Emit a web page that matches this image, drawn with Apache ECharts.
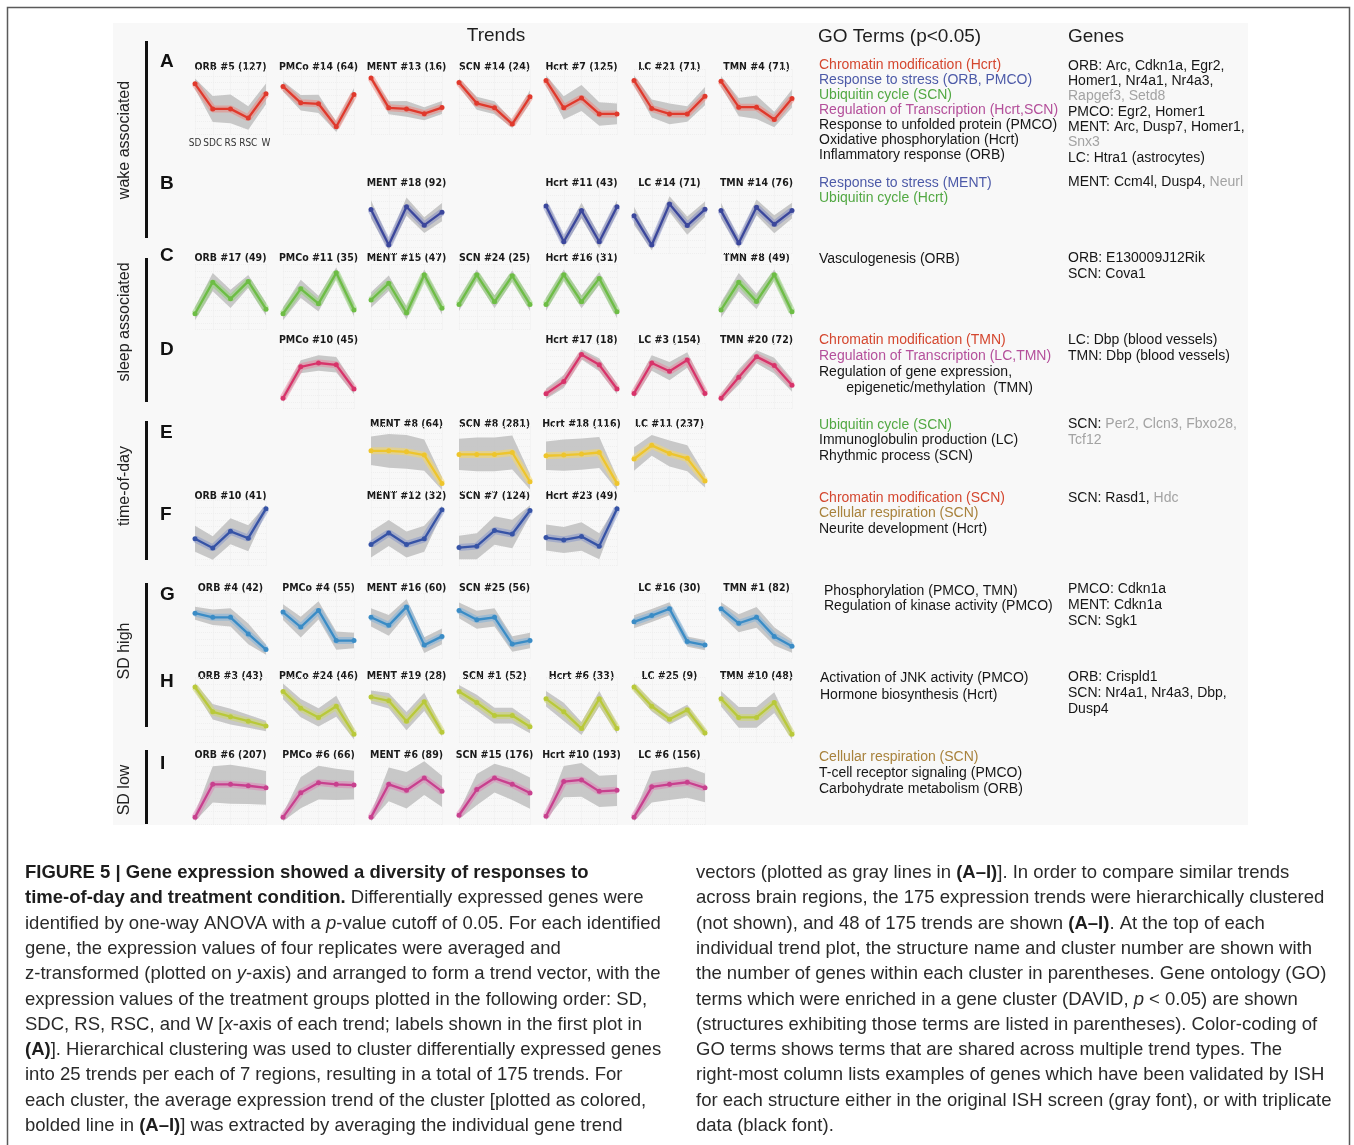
<!DOCTYPE html>
<html><head><meta charset="utf-8">
<script src="https://cdn.jsdelivr.net/npm/echarts@6/dist/echarts.min.js"></script>
<style>html,body{margin:0;padding:0;background:#fff}#c{width:1354px;height:1145px}</style>
</head><body><div id="c"></div>
<script>
// ---------------- DATA ----------------
const stages = ['SD', 'SDC', 'RS', 'RSC', 'W'];
const regions = ['ORB', 'PMCo', 'MENT', 'SCN', 'Hcrt', 'LC', 'TMN'];

// A – wake associated
const A_titles = ['ORB #5 (127)', 'PMCo #14 (64)', 'MENT #13 (16)', 'SCN #14 (24)', 'Hcrt #7 (125)', 'LC #21 (71)', 'TMN #4 (71)'];
const A_mean = [[1.4, -0.53, -0.53, -1.23, 0.63], [1.2, -0.06, -0.14, -1.9, 0.58], [1.85, -0.45, -0.53, -0.9, -0.43], [1.5, -0.1, -0.45, -1.7, 0.4], [1.66, -0.45, 0.3, -0.92, -0.92], [1.66, -0.5, -0.92, -0.92, 0.45], [1.6, -0.4, -0.4, -1.35, 0.27]];
const A_spread = [[0.4, 1.0, 1.1, 0.9, 0.8], [0.4, 0.6, 0.7, 0.4, 0.5], [0.2, 0.5, 0.6, 0.5, 0.5], [0.3, 0.5, 0.5, 0.3, 0.5], [0.4, 0.9, 1.0, 0.9, 0.8], [0.4, 0.7, 0.8, 0.6, 0.7], [0.4, 0.7, 0.9, 0.6, 0.7]];
// B – wake associated
const B_titles = [null, null, 'MENT #18 (92)', null, 'Hcrt #11 (43)', 'LC #14 (71)', 'TMN #14 (76)'];
const B_mean = [null, null, [0.89, -1.85, 1.1, -0.32, 0.68], null, [1.15, -1.6, 0.8, -1.6, 1.1], [0.4, -1.85, 1.3, -0.35, 0.9], [0.8, -1.7, 1.05, -0.25, 0.8]];
const B_spread = [null, null, [0.7, 0.4, 0.7, 0.6, 0.7], null, [0.5, 0.4, 0.6, 0.5, 0.5], [0.7, 0.4, 0.6, 0.7, 0.6], [0.6, 0.4, 0.6, 0.7, 0.6]];
// C – sleep associated
const C_titles = ['ORB #17 (49)', 'PMCo #11 (35)', 'MENT #15 (47)', 'SCN #24 (25)', 'Hcrt #16 (31)', null, 'TMN #8 (49)'];
const C_mean = [[-1.29, 1.14, -0.14, 1.2, -0.94], [-1.29, 0.63, -0.51, 1.86, -1.0], [-0.23, 1.06, -1.23, 1.71, -0.86], [-0.57, 1.71, -0.37, 1.63, -0.57], [-0.57, 1.71, -0.37, 1.43, -1.14], null, [-1.0, 1.14, -0.34, 1.71, -1.14]];
const C_spread = [[0.5, 0.7, 0.7, 0.5, 0.5], [0.5, 0.7, 0.6, 0.4, 0.5], [0.6, 0.6, 0.5, 0.4, 0.5], [0.5, 0.4, 0.5, 0.4, 0.5], [0.5, 0.4, 0.5, 0.5, 0.5], null, [0.6, 0.7, 0.6, 0.4, 0.5]];
// D – sleep associated
const D_titles = [null, 'PMCo #10 (45)', null, null, 'Hcrt #17 (18)', 'LC #3 (154)', 'TMN #20 (72)'];
const D_mean = [null, [-1.71, 0.71, 1.0, 0.86, -1.0], null, null, [-1.37, -0.43, 1.66, 0.86, -1.0], [-1.34, 1.0, 0.37, 1.23, -1.34], [-1.71, -0.09, 1.49, 0.8, -0.71]];
const D_spread = [null, [0.3, 0.5, 0.6, 0.6, 0.4], null, null, [0.4, 0.5, 0.4, 0.5, 0.4], [0.4, 0.6, 0.7, 0.6, 0.4], [0.3, 0.6, 0.5, 0.6, 0.5]];
// E – time-of-day
const E_titles = [null, null, 'MENT #8 (64)', 'SCN #8 (281)', 'Hcrt #18 (116)', 'LC #11 (237)', null];
const E_mean = [null, null, [0.63, 0.63, 0.55, 0.3, -1.88], [0.35, 0.35, 0.35, 0.5, -1.75], [0.25, 0.3, 0.38, 0.5, -1.88], [0.0, 1.05, 0.43, 0.05, -1.7], null];
const E_spread = [null, null, [1.1, 1.3, 1.3, 1.2, 0.5], [1.2, 1.3, 1.3, 1.3, 0.6], [1.1, 1.2, 1.2, 1.2, 0.5], [0.9, 0.8, 1.0, 1.0, 0.5], null];
// F – time-of-day
const F_titles = ['ORB #10 (41)', null, 'MENT #12 (32)', 'SCN #7 (124)', 'Hcrt #23 (49)', null, null];
const F_mean = [[-0.45, -1.15, 0.13, -0.4, 1.87], null, [-0.88, 0.0, -0.88, -0.45, 1.79], [-1.12, -1.01, 0.19, -0.08, 1.73], [-0.35, -0.53, -0.27, -1.01, 1.87], null, null];
const F_spread = [[1.0, 0.9, 1.0, 1.0, 0.3], null, [1.0, 1.0, 1.0, 1.0, 0.3], [0.9, 1.0, 1.1, 1.1, 0.4], [1.0, 1.0, 1.1, 1.0, 0.3], null, null];
// G – SD high
const G_titles = ['ORB #4 (42)', 'PMCo #4 (55)', 'MENT #16 (60)', 'SCN #25 (56)', null, 'LC #16 (30)', 'TMN #1 (82)'];
const G_mean = [[0.99, 0.67, 0.67, -0.61, -1.81], [1.07, -0.08, 1.2, -1.12, -1.12], [0.67, 0.05, 1.47, -1.47, -0.8], [1.2, 0.48, 0.67, -1.39, -1.12], null, [0.32, 0.8, 1.33, -1.2, -1.47], [1.33, 0.21, 0.67, -0.8, -1.55]];
const G_spread = [[0.5, 0.6, 0.7, 0.8, 0.4], [0.6, 0.8, 0.7, 0.7, 0.6], [0.7, 0.8, 0.6, 0.6, 0.6], [0.6, 0.7, 0.7, 0.6, 0.6], null, [0.5, 0.5, 0.5, 0.4, 0.4], [0.5, 0.7, 0.8, 0.7, 0.5]];
// H – SD high
const H_titles = ['ORB #3 (43)', 'PMCo #24 (46)', 'MENT #19 (28)', 'SCN #1 (52)', 'Hcrt #6 (33)', 'LC #25 (9)', 'TMN #10 (48)'];
const H_mean = [[1.77, -0.14, -0.51, -0.86, -1.23], [1.43, 0.14, -0.57, 0.29, -1.86], [1.0, 0.71, -0.86, 0.63, -1.71], [1.43, 0.57, -0.43, -0.43, -1.29], [0.86, -0.14, -1.43, 0.86, -1.43], [1.77, 0.29, -0.71, 0.0, -1.77], [0.86, -0.57, -0.57, 0.57, -1.86]];
const H_spread = [[0.3, 0.6, 0.6, 0.5, 0.4], [0.6, 0.7, 0.7, 0.8, 0.4], [0.5, 0.6, 0.7, 0.7, 0.3], [0.5, 0.6, 0.6, 0.6, 0.5], [0.6, 0.7, 0.5, 0.6, 0.4], [0.3, 0.4, 0.4, 0.4, 0.3], [0.6, 0.8, 0.8, 0.8, 0.4]];
// I – SD low
const I_titles = ['ORB #6 (207)', 'PMCo #6 (66)', 'MENT #6 (89)', 'SCN #15 (176)', 'Hcrt #10 (193)', 'LC #6 (156)', null];
const I_mean = [[-1.95, 0.59, 0.59, 0.48, 0.32], [-1.95, -0.05, 0.72, 0.59, 0.53], [-1.95, 0.59, 0.13, 1.07, 0.05], [-1.79, 0.19, 1.07, 0.59, -0.08], [-1.87, 0.8, 0.93, 0.05, 0.13], [-1.95, 0.4, 0.59, 0.75, 0.32], null];
const I_spread = [[0.3, 1.4, 1.5, 1.4, 1.3], [0.3, 1.2, 1.3, 1.2, 1.1], [0.3, 1.3, 1.4, 1.3, 1.2], [0.3, 1.2, 1.1, 1.2, 1.2], [0.3, 1.2, 1.3, 1.2, 1.2], [0.3, 1.2, 1.2, 1.2, 1.1], null];

const groupLabels = ['wake associated', 'sleep associated', 'time-of-day', 'SD high', 'SD low'];

const goA = [['Chromatin modification (Hcrt)', 'red'], ['Response to stress (ORB, PMCO)', 'blue'], ['Ubiquitin cycle (SCN)', 'green'], ['Regulation of Transcription (Hcrt,SCN)', 'pink'], ['Response to unfolded protein (PMCO)', 'black'], ['Oxidative phosphorylation (Hcrt)', 'black'], ['Inflammatory response (ORB)', 'black']];
const goB = [['Response to stress (MENT)', 'blue'], ['Ubiquitin cycle (Hcrt)', 'green']];
const goC = [['Vasculogenesis (ORB)', 'black']];
const goD = [['Chromatin modification (TMN)', 'red'], ['Regulation of Transcription (LC,TMN)', 'pink'], ['Regulation of gene expression,', 'black'], ['       epigenetic/methylation  (TMN)', 'black']];
const goE = [['Ubiquitin cycle (SCN)', 'green'], ['Immunoglobulin production (LC)', 'black'], ['Rhythmic process (SCN)', 'black']];
const goF = [['Chromatin modification (SCN)', 'red'], ['Cellular respiration (SCN)', 'brown'], ['Neurite development (Hcrt)', 'black']];
const goG = [['Phosphorylation (PMCO, TMN)', 'black'], ['Regulation of kinase activity (PMCO)', 'black']];
const goH = [['Activation of JNK activity (PMCO)', 'black'], ['Hormone biosynthesis (Hcrt)', 'black']];
const goI = [['Cellular respiration (SCN)', 'brown'], ['T-cell receptor signaling (PMCO)', 'black'], ['Carbohydrate metabolism (ORB)', 'black']];

const genesA = [[['ORB: Arc, Cdkn1a, Egr2,', 'black']], [['Homer1, Nr4a1, Nr4a3,', 'black']], [['Rapgef3, Setd8', 'gray']], [['PMCO: Egr2, Homer1', 'black']], [['MENT: Arc, Dusp7, Homer1,', 'black']], [['Snx3', 'gray']], [['LC: Htra1 (astrocytes)', 'black']]];
const genesB = [[['MENT: Ccm4l, Dusp4, ', 'black'], ['Neurl', 'gray']]];
const genesC = [[['ORB: E130009J12Rik', 'black']], [['SCN: Cova1', 'black']]];
const genesD = [[['LC: Dbp (blood vessels)', 'black']], [['TMN: Dbp (blood vessels)', 'black']]];
const genesE = [[['SCN: ', 'black'], ['Per2, Clcn3, Fbxo28,', 'gray']], [['Tcf12', 'gray']]];
const genesF = [[['SCN: Rasd1, ', 'black'], ['Hdc', 'gray']]];
const genesG = [[['PMCO: Cdkn1a', 'black']], [['MENT: Cdkn1a', 'black']], [['SCN: Sgk1', 'black']]];
const genesH = [[['ORB: Crispld1', 'black']], [['SCN: Nr4a1, Nr4a3, Dbp,', 'black']], [['Dusp4', 'black']]];
const genesI = [];

const capLeft = [
  '{b|FIGURE 5 | Gene expression showed a diversity of responses to}',
  '{b|time-of-day and treatment condition.} Differentially expressed genes were',
  'identified by one-way ANOVA with a {i|p}-value cutoff of 0.05. For each identified',
  'gene, the expression values of four replicates were averaged and',
  'z-transformed (plotted on {i|y}-axis) and arranged to form a trend vector, with the',
  'expression values of the treatment groups plotted in the following order: SD,',
  'SDC, RS, RSC, and W [{i|x}-axis of each trend; labels shown in the first plot in',
  '{b|(A)}]. Hierarchical clustering was used to cluster differentially expressed genes',
  'into 25 trends per each of 7 regions, resulting in a total of 175 trends. For',
  'each cluster, the average expression trend of the cluster [plotted as colored,',
  'bolded line in {b|(A–I)}] was extracted by averaging the individual gene trend'
];
const capRight = [
  'vectors (plotted as gray lines in {b|(A–I)}]. In order to compare similar trends',
  'across brain regions, the 175 expression trends were hierarchically clustered',
  '(not shown), and 48 of 175 trends are shown {b|(A–I)}. At the top of each',
  'individual trend plot, the structure name and cluster number are shown with',
  'the number of genes within each cluster in parentheses. Gene ontology (GO)',
  'terms which were enriched in a gene cluster (DAVID, {i|p} < 0.05) are shown',
  '(structures exhibiting those terms are listed in parentheses). Color-coding of',
  'GO terms shows terms that are shared across multiple trend types. The',
  'right-most column lists examples of genes which have been validated by ISH',
  'for each structure either in the original ISH screen (gray font), or with triplicate',
  'data (black font).'
];

// ---------------- LAYOUT / STYLE ----------------
const SANS = '"Liberation Sans", Arial, Helvetica, sans-serif';
const NARROW = '"Liberation Sans Narrow", "Arial Narrow", "DejaVu Sans Condensed", sans-serif';
const CAP = 18.5;
const textColors = { red: '#d4472f', blue: '#4d5aa8', green: '#52a843', pink: '#b4509b', brown: '#a8823c', gray: '#a3a3a3', black: '#161616' };

const rows = [
  { key: 'A', titles: A_titles, mean: A_mean, spread: A_spread, color: '#e0392c', halo: 'rgba(240,120,110,0.45)', top: 76, titleY: 67, letterY: 62, go: goA, goY: 65, goStep: 15, genes: genesA, genesY: 66, genesStep: 15.3 },
  { key: 'B', titles: B_titles, mean: B_mean, spread: B_spread, color: '#3b479c', halo: 'rgba(110,120,190,0.4)', top: 195, titleY: 183, letterY: 184, go: goB, goY: 183, goStep: 15, genes: genesB, genesY: 182, genesStep: 16 },
  { key: 'C', titles: C_titles, mean: C_mean, spread: C_spread, color: '#6dbd45', halo: 'rgba(140,210,110,0.5)', top: 271, titleY: 258, letterY: 256, go: goC, goY: 259, goStep: 15.5, genes: genesC, genesY: 258, genesStep: 16.5 },
  { key: 'D', titles: D_titles, mean: D_mean, spread: D_spread, color: '#d8336a', halo: 'rgba(235,120,150,0.45)', top: 350, titleY: 340, letterY: 350, go: goD, goY: 340, goStep: 16, genes: genesD, genesY: 340, genesStep: 16 },
  { key: 'E', titles: E_titles, mean: E_mean, spread: E_spread, color: '#eec52c', halo: 'rgba(245,215,100,0.55)', top: 433, titleY: 424, letterY: 433, go: goE, goY: 425, goStep: 15.5, genes: genesE, genesY: 424, genesStep: 16 },
  { key: 'F', titles: F_titles, mean: F_mean, spread: F_spread, color: '#3653a6', halo: 'rgba(110,130,200,0.4)', top: 507, titleY: 496, letterY: 515, go: goF, goY: 498, goStep: 15.5, genes: genesF, genesY: 498, genesStep: 16 },
  { key: 'G', titles: G_titles, mean: G_mean, spread: G_spread, color: '#3a8cc6', halo: 'rgba(110,170,220,0.45)', top: 600, titleY: 588, letterY: 595, go: goG, goY: 591, goStep: 15.5, goX: 824, genes: genesG, genesY: 589, genesStep: 16 },
  { key: 'H', titles: H_titles, mean: H_mean, spread: H_spread, color: '#b9c93a', halo: 'rgba(205,215,100,0.5)', top: 684, titleY: 676, letterY: 682, go: goH, goY: 678, goStep: 17, goX: 820, genes: genesH, genesY: 677, genesStep: 16 },
  { key: 'I', titles: I_titles, mean: I_mean, spread: I_spread, color: '#c8408e', halo: 'rgba(225,120,180,0.45)', top: 766, titleY: 755, letterY: 764, go: goI, goY: 757, goStep: 16, genes: genesI, genesY: 757, genesStep: 16 }
];
const colLeft = [195, 283, 371, 459, 546, 634, 721];
const PW = 71, UNIT = 13;
const groupLayout = [[140, 41, 238], [322, 258, 402], [486, 421, 560], [651, 583, 727], [790, 750, 824]];

const option = { animation: false, grid: [], xAxis: [], yAxis: [], series: [], graphic: [] };
const G = option.graphic;

// frame + background
G.push({ type: 'rect', z: -10, shape: { x: 113, y: 23, width: 1135, height: 802 }, style: { fill: '#f8f8f8' } });
G.push({ type: 'polyline', z: 5, shape: { points: [[7.5, 1145], [7.5, 7.5], [1349.5, 7.5], [1349.5, 1145]] }, style: { stroke: '#5a5a5a', lineWidth: 1.5, fill: null } });

// headers
G.push({ type: 'text', x: 496, y: 36, style: { text: 'Trends', fontSize: 19, fontFamily: SANS, fill: '#1e1e1e', align: 'center', verticalAlign: 'middle' } });
G.push({ type: 'text', x: 818, y: 37, style: { text: 'GO Terms (p<0.05)', fontSize: 19, fontFamily: SANS, fill: '#1e1e1e', align: 'left', verticalAlign: 'middle' } });
G.push({ type: 'text', x: 1068, y: 37, style: { text: 'Genes', fontSize: 19, fontFamily: SANS, fill: '#1e1e1e', align: 'left', verticalAlign: 'middle' } });

// group labels and bars
groupLabels.forEach((lab, i) => {
  const [cy, y0, y1] = groupLayout[i];
  G.push({ type: 'text', x: 125, y: cy, rotation: Math.PI / 2, style: { text: lab, fontSize: 16, fontFamily: SANS, fill: '#222', align: 'center', verticalAlign: 'middle' } });
  G.push({ type: 'rect', shape: { x: 145, y: y0, width: 3, height: y1 - y0 }, style: { fill: '#111' } });
});

const richColors = {};
Object.keys(textColors).forEach(k => { richColors[k] = { fill: textColors[k], fontSize: 14, fontFamily: SANS }; });

rows.forEach(r => {
  G.push({ type: 'text', x: 160, y: r.letterY, style: { text: r.key, fontSize: 19, fontWeight: 'bold', fontFamily: SANS, fill: '#111', align: 'left', verticalAlign: 'middle' } });
  r.go.forEach((g, i) => {
    G.push({ type: 'text', x: r.goX || 819, y: r.goY + i * r.goStep, style: { text: g[0], fontSize: 14, fontFamily: SANS, fill: textColors[g[1]], align: 'left', verticalAlign: 'middle' } });
  });
  r.genes.forEach((parts, i) => {
    const txt = parts.map(p => '{' + p[1] + '|' + p[0] + '}').join('');
    G.push({ type: 'text', x: 1068, y: r.genesY + i * r.genesStep, style: { text: txt, rich: richColors, fontSize: 14, fontFamily: SANS, fill: '#161616', align: 'left', verticalAlign: 'middle' } });
  });
  r.titles.forEach((t, ci) => {
    if (!t) return;
    const m = r.mean[ci], s = r.spread[ci];
    const gi = option.grid.length;
    option.grid.push({ left: colLeft[ci], top: r.top - 0.5 * UNIT, width: PW, height: 5 * UNIT });
    const showLab = (r.key === 'A' && ci === 0);
    option.xAxis.push({
      type: 'category', gridIndex: gi, data: stages, boundaryGap: false,
      axisLine: { show: false }, axisTick: { show: false },
      axisLabel: { show: showLab, interval: 0, margin: 4, fontSize: 10, fontFamily: NARROW, color: '#333', hideOverlap: false },
      splitLine: { show: true, lineStyle: { color: '#ededed', type: 'dotted', width: 1 } }
    });
    option.yAxis.push({
      type: 'value', gridIndex: gi, min: -2.5, max: 2.5, interval: 0.5,
      axisLine: { show: false }, axisTick: { show: false }, axisLabel: { show: false },
      splitLine: { show: true, lineStyle: { color: '#efefef', type: 'dotted', width: 1 } }
    });
    const lo = m.map((v, i) => v - s[i]);
    const span = s.map(v => 2 * v);
    const common = { xAxisIndex: gi, yAxisIndex: gi, silent: true, symbol: 'none' };
    option.series.push(Object.assign({ type: 'line', data: lo, stack: 'band' + gi, stackStrategy: 'all', lineStyle: { opacity: 0 }, z: 1 }, common));
    option.series.push(Object.assign({ type: 'line', data: span, stack: 'band' + gi, stackStrategy: 'all', lineStyle: { opacity: 0 }, areaStyle: { color: '#c3c3c3', opacity: 0.92 }, z: 1 }, common));
    option.series.push(Object.assign({ type: 'line', data: m, lineStyle: { color: r.halo, width: 7 }, z: 2 }, common));
    option.series.push({ type: 'line', xAxisIndex: gi, yAxisIndex: gi, silent: true, data: m, symbol: 'circle', symbolSize: 5, itemStyle: { color: r.color }, lineStyle: { color: r.color, width: 2.3 }, z: 3 });
    G.push({ type: 'text', x: colLeft[ci] + PW / 2, y: r.titleY, style: { text: t, fontSize: 10.5, fontWeight: 'bold', fontFamily: NARROW, fill: '#1a1a1a', align: 'center', verticalAlign: 'middle' } });
  });
});

// caption
const capRich = {
  b: { fontSize: CAP, fontFamily: SANS, fontWeight: 'bold', fill: '#1d1d1d' },
  i: { fontSize: CAP, fontFamily: SANS, fontStyle: 'italic', fill: '#2a2a2a' }
};
capLeft.forEach((line, i) => {
  G.push({ type: 'text', x: 25, y: 873 + i * 25.3, style: { text: line, rich: capRich, fontSize: CAP, fontFamily: SANS, fill: '#2a2a2a', align: 'left', verticalAlign: 'middle' } });
});
capRight.forEach((line, i) => {
  G.push({ type: 'text', x: 696, y: 873 + i * 25.3, style: { text: line, rich: capRich, fontSize: CAP, fontFamily: SANS, fill: '#2a2a2a', align: 'left', verticalAlign: 'middle' } });
});

const chart = echarts.init(document.getElementById('c'), null, { renderer: 'canvas' });
chart.setOption(option);
</script>
</body></html>
